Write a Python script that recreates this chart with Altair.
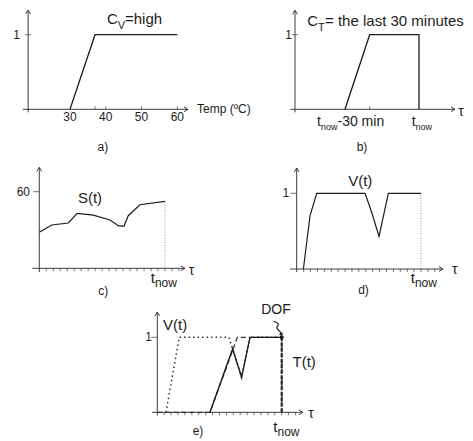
import altair as alt
import pandas as pd

FONT = "Liberation Sans"
INK = "#1c1c1c"
AX = "#3c3c3c"

# ---------------- data ----------------
# a) membership C_V = high over temperature (ºC)
a_temp = [30, 37, 60]
a_cv = [0, 1, 1]
a_xticks = [37, 40, 50, 60]
a_xlabels = [30, 40, 50, 60]

# b) membership C_T over time (minutes, t_now = 60)
b_min = [30, 40, 60, 60]
b_ct = [0, 1, 1, 0]
b_xticks = [40]

T_NOW = 18
time_ticks = list(range(1, 21))

# c) sensor value S(t)
c_t = [0, 1.77, 4.15, 5.44, 7.73, 10.12, 11.31, 12.12, 12.74, 14.41, 18]
c_s = [28.2, 33.9, 35.5, 43.0, 41.7, 37.8, 33.4, 32.9, 41.2, 49.8, 52.4]

# d) V(t)
d_t = [0.97, 1.93, 2.9, 9.89, 10.86, 11.92, 13.27, 18]
d_v = [0, 0.705, 1, 1, 0.749, 0.432, 1, 1]

# e) V(t), T(t) and their combination
e_v_t = [1.25, 3.18, 10.37, 10.9, 12.2, 13.41, 18]
e_v = [0, 1, 1, 0.844, 0.467, 1, 1]
e_T_t = [0, 7.62, 11.58, 18, 18]
e_T = [0, 0, 1, 1, 0]
e_dof_t = [7.62, 10.9, 12.2, 13.41, 18]
e_dof = [0, 0.844, 0.467, 1, 1]
dof_curl_t = [16.85, 17.5, 17.3, 17.75, 17.98]
dof_curl_y = [1.215, 1.18, 1.125, 1.075, 1.035]

UP = "M-0.6,1L0,0L0.6,1"
RIGHT = "M-1,-0.6L0,0L-1,0.6"


def enc(xd, yd):
    return dict(
        x=alt.X("x:Q", scale=alt.Scale(domain=xd, nice=False, zero=False), axis=None),
        y=alt.Y("y:Q", scale=alt.Scale(domain=yd, nice=False, zero=False), axis=None),
    )


def line(xs, ys, xd, yd, **mk):
    df = pd.DataFrame({"x": xs, "y": ys, "i": list(range(len(xs)))})
    return alt.Chart(df).mark_line(**mk).encode(order="i:Q", **enc(xd, yd))


def rule(x, y, x2, y2, xd, yd, **mk):
    df = pd.DataFrame({"x": [x], "y": [y], "x2": [x2], "y2": [y2]})
    return alt.Chart(df).mark_rule(**mk).encode(x2="x2:Q", y2="y2:Q", **enc(xd, yd))


def pts(xs, ys, xd, yd, **mk):
    df = pd.DataFrame({"x": xs, "y": ys})
    return alt.Chart(df).mark_point(**mk).encode(**enc(xd, yd))


def ticks(xs, ys, xd, yd, **mk):
    df = pd.DataFrame({"x": xs, "y": ys})
    return alt.Chart(df).mark_tick(color=AX, thickness=1, **mk).encode(**enc(xd, yd))


def txt(x, y, s, xd, yd, size=12, align="center", baseline="middle", dx=0, dy=0):
    df = pd.DataFrame({"x": [x], "y": [y], "t": [s]})
    return alt.Chart(df).mark_text(
        font=FONT, fontSize=size, align=align, baseline=baseline, dx=dx, dy=dy, color=INK
    ).encode(text="t:N", **enc(xd, yd))


def axes(xs, xe, ox, ys, ye, xd, yd):
    return [
        rule(xs, 0, xe, 0, xd, yd, color=AX, strokeWidth=1),
        rule(ox, ys, ox, ye, xd, yd, color=AX, strokeWidth=1),
        pts([xe], [0], xd, yd, shape=RIGHT, size=64, filled=False, color=AX, strokeWidth=1, opacity=1),
        pts([ox], [ye], xd, yd, shape=UP, size=64, filled=False, color=AX, strokeWidth=1, opacity=1),
    ]


def tnow_label(x, y, xd, yd, dx, big=True):
    s1, s2 = (15, 12) if big else (14, 9)
    w = 4.2 if big else 3.9
    return [
        txt(x, y, "t", xd, yd, size=s1, align="left", baseline="alphabetic", dx=dx),
        txt(x, y, "now", xd, yd, size=s2, align="left", baseline="alphabetic", dx=dx + w, dy=4),
    ]


# ---------------- panel a ----------------
xd, yd = [12.667, 76.41], [-0.572, 1.331]
A_layers = axes(16.8, 63.0, 18.3, -0.04, 1.33, xd, yd) + [
    ticks([18.3], [1], xd, yd, orient="horizontal", size=6),
    ticks(a_xticks, [0] * len(a_xticks), xd, yd, orient="vertical", size=3, yOffset=-1.5),
    line(a_temp, a_cv, xd, yd, color=INK, strokeWidth=1.3),
    txt(16.0, 1, "1", xd, yd, size=12, align="right"),
    txt(65.5, 0, "Temp (ºC)", xd, yd, size=12, align="left"),
    txt(40.34, 1.147, "C", xd, yd, size=15, align="left", baseline="alphabetic"),
    txt(40.34, 1.147, "V", xd, yd, size=11, align="left", baseline="alphabetic", dx=10.8, dy=5),
    txt(40.34, 1.147, "=high", xd, yd, size=15, align="left", baseline="alphabetic", dx=18),
    txt(39.2, -0.505, "a)", xd, yd, size=12),
]
for v in a_xlabels:
    A_layers.append(txt(v, -0.099, str(v), xd, yd, size=12))
A = alt.layer(*A_layers).properties(width=228, height=142)

# ---------------- panel b ----------------
xd, yd = [-14.19, 78.65], [-0.572, 1.331]
B_layers = axes(7.9, 74.6, 9.73, -0.04, 1.327, xd, yd) + [
    ticks([9.73], [1], xd, yd, orient="horizontal", size=6),
    ticks(b_xticks, [0] * len(b_xticks), xd, yd, orient="vertical", size=3, yOffset=-1.5),
    line(b_min, b_ct, xd, yd, color=INK, strokeWidth=1.3),
    txt(8.51, 1, "1", xd, yd, size=12, align="right"),
    txt(77.0, -0.04, "τ", xd, yd, size=14),
    txt(30, -0.228, "t", xd, yd, size=14, align="left", baseline="alphabetic", dx=-28),
    txt(30, -0.228, "now", xd, yd, size=9, align="left", baseline="alphabetic", dx=-24, dy=4),
    txt(30, -0.228, "-30 min", xd, yd, size=14, align="left", baseline="alphabetic", dx=-7.5),
    txt(14.72, 1.117, "C", xd, yd, size=15, align="left", baseline="alphabetic"),
    txt(14.72, 1.117, "T", xd, yd, size=11, align="left", baseline="alphabetic", dx=10.8, dy=5),
    txt(14.72, 1.117, "= the last 30 minutes", xd, yd, size=15, align="left", baseline="alphabetic", dx=17.7),
    txt(36.9, -0.505, "b)", xd, yd, size=12),
] + tnow_label(60, -0.228, xd, yd, -7.3, big=False)
B = alt.layer(*B_layers).properties(width=229, height=142)

# ---------------- panel c ----------------
xd, yd = [-4.482, 28.17], [-24.05, 89.53]
C_layers = axes(-1.0, 20.86, 0, -3.0, 79.1, xd, yd) + [
    ticks([0], [60], xd, yd, orient="horizontal", size=6, xOffset=-3),
    ticks(time_ticks, [0] * len(time_ticks), xd, yd, orient="vertical", size=3, yOffset=1.5),
    rule(T_NOW, 0, T_NOW, c_s[-1], xd, yd, color="#9a9a9a", strokeWidth=1, strokeDash=[1, 1.5]),
    line(c_t, c_s, xd, yd, color=INK, strokeWidth=1.2),
    txt(-1.33, 60, "60", xd, yd, size=12, align="right"),
    txt(7.26, 55.1, "S(t)", xd, yd, size=15),
    txt(21.8, -1.9, "τ", xd, yd, size=14),
    txt(9.16, -17.4, "c)", xd, yd, size=12),
] + tnow_label(T_NOW, -11.75, xd, yd, -14.3)
C = alt.layer(*C_layers).properties(width=228, height=145)

# ---------------- panel d ----------------
xd, yd = [-8.79, 24.37], [-0.396, 1.519]
D_layers = axes(-0.97, 21.18, 0, -0.04, 1.334, xd, yd) + [
    ticks([0], [1], xd, yd, orient="horizontal", size=6, xOffset=-3),
    ticks(time_ticks, [0] * len(time_ticks), xd, yd, orient="vertical", size=3, yOffset=1.5),
    rule(T_NOW, 0, T_NOW, 1, xd, yd, color="#9a9a9a", strokeWidth=1, strokeDash=[1, 1.5]),
    line(d_t, d_v, xd, yd, color=INK, strokeWidth=1.2),
    txt(-1.1, 1, "1", xd, yd, size=12, align="right"),
    txt(9.2, 1.162, "V(t)", xd, yd, size=15),
    txt(22.9, -0.007, "τ", xd, yd, size=14),
    txt(9.67, -0.273, "d)", xd, yd, size=12),
] + tnow_label(T_NOW, -0.189, xd, yd, -10.3)
D = alt.layer(*D_layers).properties(width=229, height=145)

# ---------------- panel e ----------------
xd, yd = [-21.6, 44.52], [-0.329, 1.511]
E_layers = axes(-0.77, 21.07, 0, -0.04, 1.337, xd, yd) + [
    ticks([0], [1], xd, yd, orient="horizontal", size=6, xOffset=-3),
    ticks(time_ticks, [0] * len(time_ticks), xd, yd, orient="vertical", size=3, yOffset=1.5),
    line(e_v_t, e_v, xd, yd, color="#333333", strokeWidth=1.5, strokeDash=[1.5, 3]),
    line(e_T_t, e_T, xd, yd, color="#333333", strokeWidth=1.3, strokeDash=[5, 3]),
    line(e_dof_t, e_dof, xd, yd, color=INK, strokeWidth=1.4),
    rule(T_NOW, 0, T_NOW, 1, xd, yd, color="#2a2a2a", strokeWidth=2.2, strokeDash=[4, 1.5]),
    line(dof_curl_t, dof_curl_y, xd, yd, color=INK, strokeWidth=1.2, interpolate="cardinal"),
    pts([dof_curl_t[-1]], [dof_curl_y[-1]], xd, yd, shape="triangle-down", size=18, filled=True,
        color=INK, opacity=1, angle=335),
    pts([T_NOW], [1], xd, yd, shape="circle", size=16, filled=True, color=INK, opacity=1),
    txt(-0.77, 1, "1", xd, yd, size=12, align="right"),
    txt(2.58, 1.164, "V(t)", xd, yd, size=15),
    txt(21.25, 0.671, "T(t)", xd, yd, size=15),
    txt(17.18, 1.36, "DOF", xd, yd, size=14),
    txt(22.24, -0.02, "τ", xd, yd, size=14),
    txt(5.89, -0.25, "e)", xd, yd, size=12),
] + tnow_label(T_NOW, -0.259, xd, yd, -8.4)
E = alt.layer(*E_layers).properties(width=457, height=138)

row1 = alt.hconcat(A, B, spacing=0, bounds="flush")
row2 = alt.hconcat(C, D, spacing=0, bounds="flush")
chart = (
    alt.vconcat(row1, row2, E, spacing=0)
    .properties(padding=0, background="white")
    .configure_view(strokeWidth=0)
)

chart.save("out.html", embed_options={"renderer": "svg", "actions": False})
